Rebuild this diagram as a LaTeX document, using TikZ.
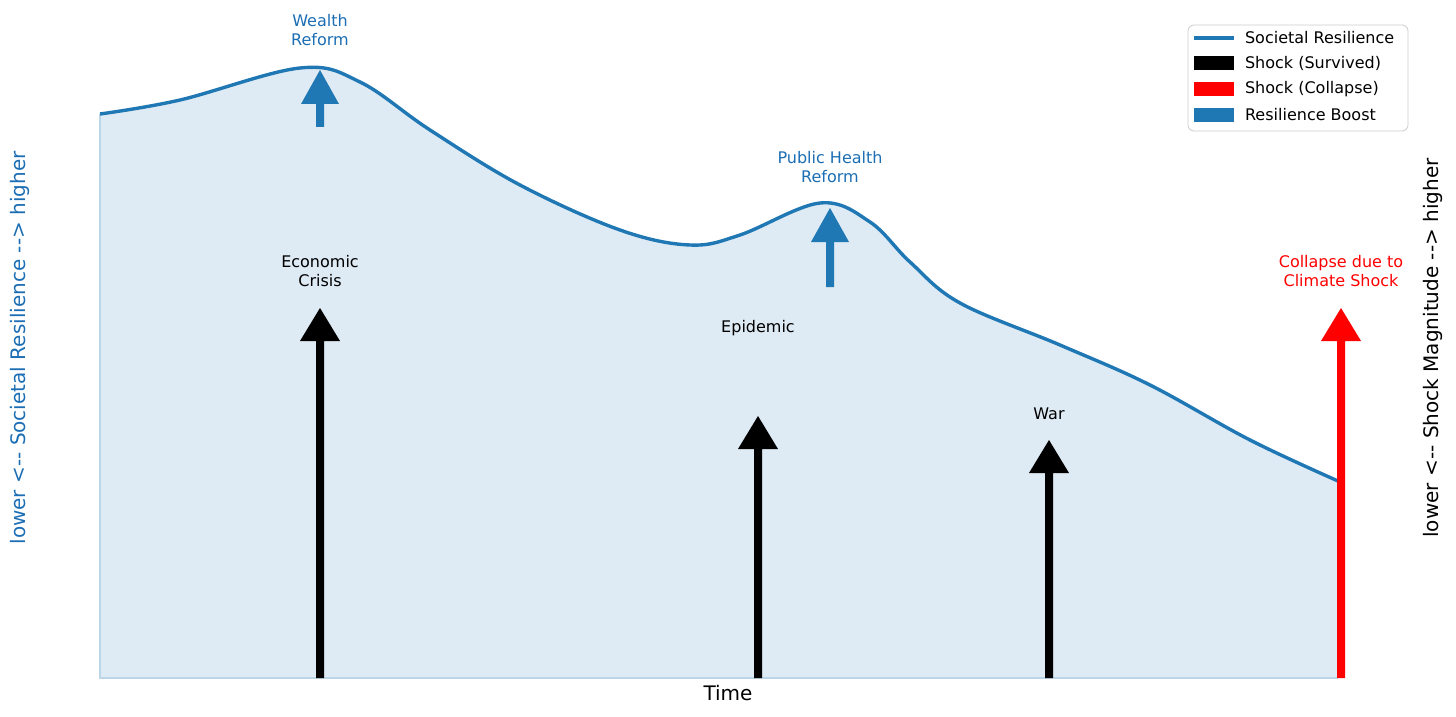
\documentclass[tikz,border=0pt]{standalone}
\usepackage{fontspec}
\setmainfont{DejaVu Sans}
\definecolor{mblue}{RGB}{31,119,180}
\definecolor{lblue}{RGB}{222,234,244}
\definecolor{tblue}{RGB}{28,110,180}
\newcommand{\fatarrow}[7]{%
\fill[#4] ({#1-#5/2},#2) -- ({#1-#5/2},{#3+#7}) -- ({#1-#6/2},{#3+#7}) -- (#1,#3) -- ({#1+#6/2},{#3+#7}) -- ({#1+#5/2},{#3+#7}) -- ({#1+#5/2},#2) -- cycle;}
\begin{document}
\begin{tikzpicture}[x=0.5pt,y=-0.5pt,lbl/.style={font=\fontsize{8}{9.5}\selectfont,align=center}]
\useasboundingbox (0,0) rectangle (1456,717);
\def\curve{(100,114)(180,100)(300,68)(360,82)(430,130)(520,185)(620,230)(690,245)(740,235)(820,203)(870,222)(910,262)(960,303)(1060,345)(1150,385)(1250,440)(1338,481)}
\fill[lblue] plot[smooth,tension=0.6] coordinates {\curve} -- (1338,678) -- (100,678) -- cycle;
\draw[mblue!30,line width=0.7pt] (100,114) -- (100,678) -- (1338,678);
\draw[mblue,line width=1.7pt] plot[smooth,tension=0.6] coordinates {\curve};
\fatarrow{320}{678}{308}{black}{8}{40}{33}
\fatarrow{758}{678}{416}{black}{8}{40}{33}
\fatarrow{1049}{678}{440}{black}{8}{40}{33}
\fatarrow{1341}{678}{308}{red}{8}{40}{33}
\fatarrow{320}{127}{70}{mblue}{8}{38}{34}
\fatarrow{830}{287}{208}{mblue}{8}{38}{34}
\node[lbl,text=tblue] (w) at (320,30) {Wealth\\Reform};
\node[lbl,text=tblue] (p) at (830,167) {Public Health\\Reform};
\node[lbl] (e) at (320,271) {Economic\\Crisis};
\node[lbl] (ep) at (758,328) {Epidemic};
\node[lbl] (wa) at (1049,414) {War};
\node[lbl,text=red] (c) at (1341,271) {Collapse due to\\Climate Shock};
\node[font=\fontsize{10}{12}\selectfont] (t) at (728,693) {Time};
\node[font=\fontsize{10}{12}\selectfont,text=tblue,rotate=90] (yl) at (20,348) {lower <{-}{-} Societal Resilience {-}{-}> higher};
\node[font=\fontsize{10}{12}\selectfont,rotate=90] (yr) at (1433,348) {lower <{-}{-} Shock Magnitude {-}{-}> higher};
\draw[gray!40,fill=white,rounded corners=3pt] (1188,25) rectangle (1408,131);
\draw[mblue,line width=1.7pt] (1194,38) -- (1234,38);
\fill[black] (1194,56) rectangle (1234,70);
\fill[red] (1194,82) rectangle (1234,96);
\fill[mblue] (1194,108) rectangle (1234,122);
\foreach \yy/\tt in {38/Societal Resilience,63/Shock (Survived),89/Shock (Collapse),115/Resilience Boost}
  \node[lbl,anchor=west] at (1238,\yy) {\tt};
\end{tikzpicture}
\end{document}
